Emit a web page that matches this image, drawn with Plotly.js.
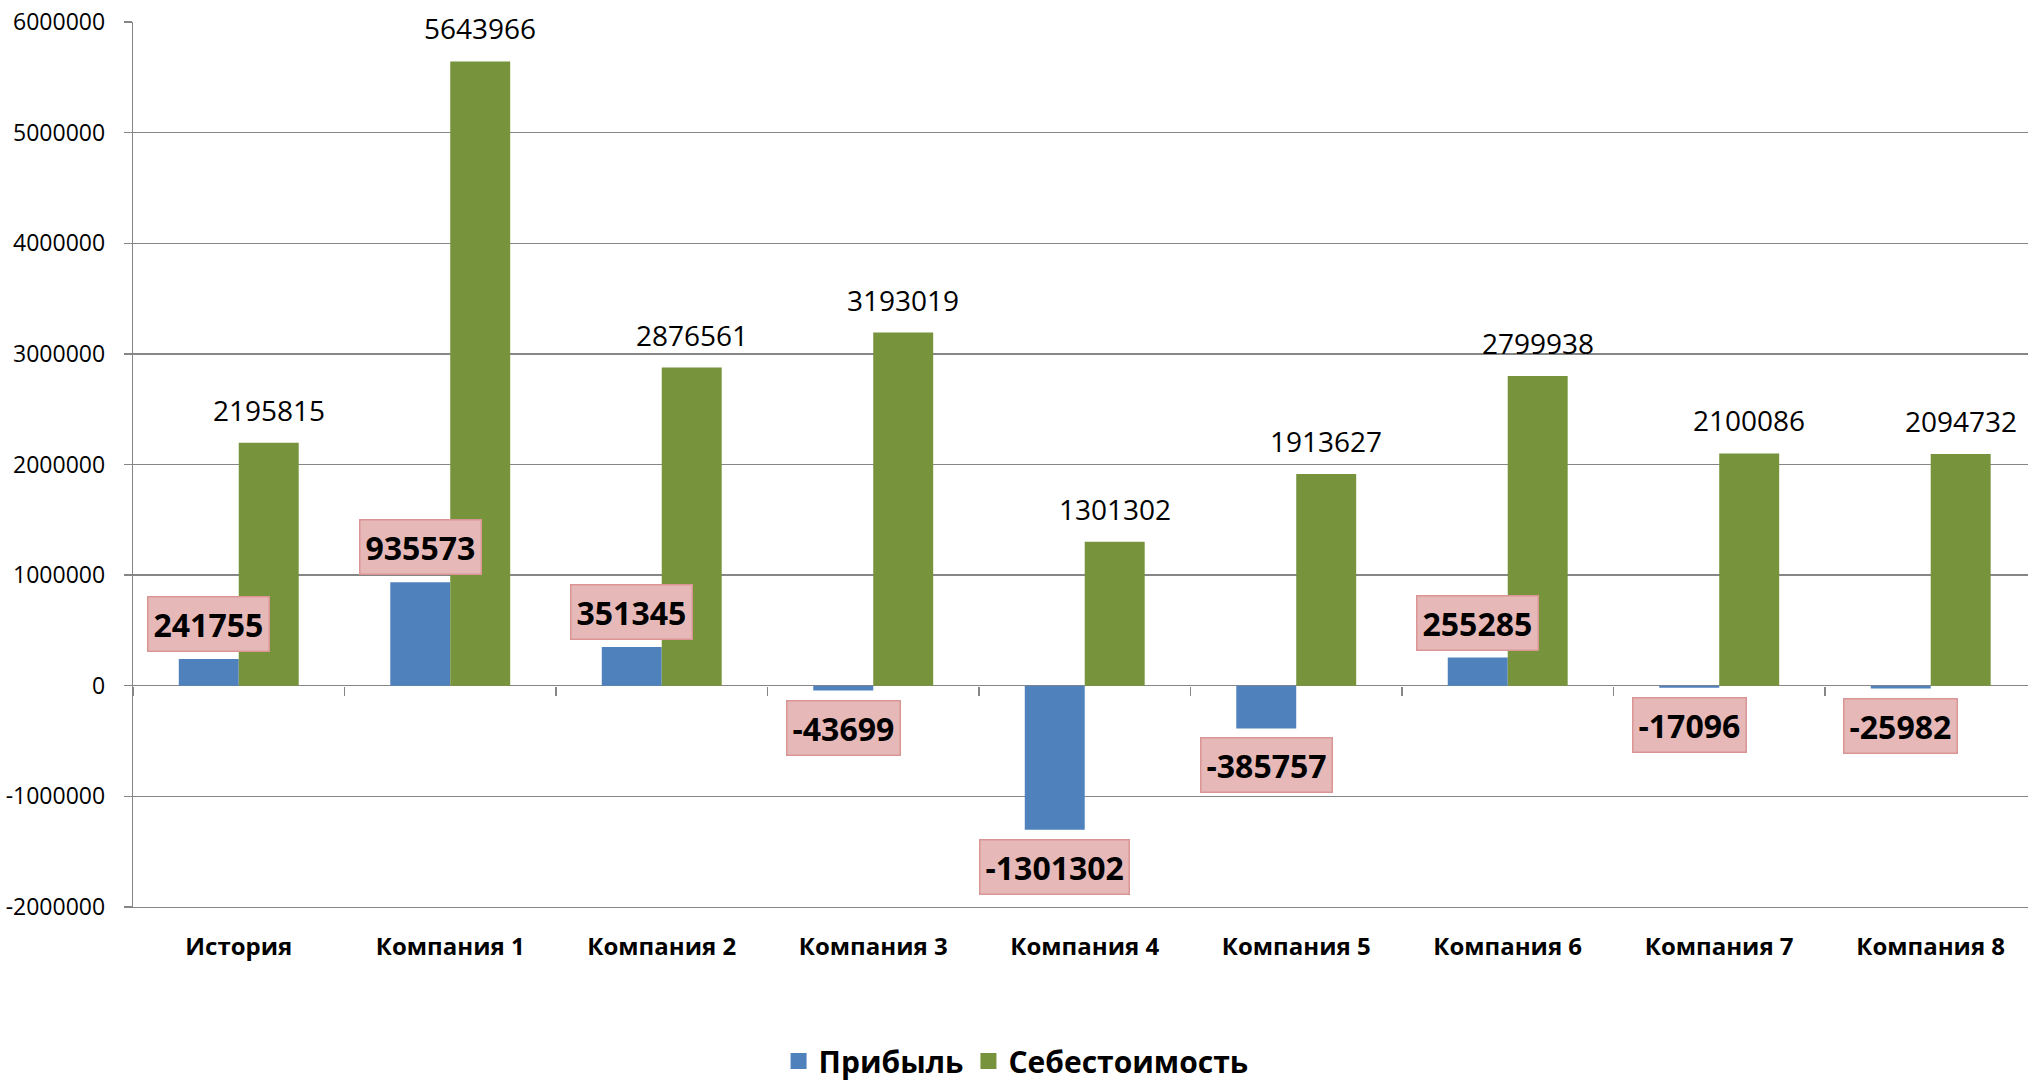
<!DOCTYPE html>
<html>
<head>
<meta charset="utf-8">
<script src="https://cdn.plot.ly/plotly-3.0.1.min.js"></script>
<style>html,body{margin:0;padding:0;background:#fff;}#chart{width:2028px;height:1081px;}</style>
</head>
<body>
<div id="chart"></div>
<script>
// ---- data ----
const categories = ["История", "Компания 1", "Компания 2", "Компания 3", "Компания 4", "Компания 5", "Компания 6", "Компания 7", "Компания 8"];
const profit = [241755, 935573, 351345, -43699, -1301302, -385757, 255285, -17096, -25982];
const cost = [2195815, 5643966, 2876561, 3193019, 1301302, 1913627, 2799938, 2100086, 2094732];
const seriesNames = ["Прибыль", "Себестоимость"];
const yTicks = [-2000000, -1000000, 0, 1000000, 2000000, 3000000, 4000000, 5000000, 6000000];

// ---- style ----
const BLUE = "#4F81BD", GREEN = "#77933C", GRID = "#868686";
const PINK = "#E6B9B8", PINK_BORDER = "#D99694";
const FONT = "Open Sans, Noto Sans, sans-serif";
const BARGAP = 0.433;
const yRange = [-2000000, 6000000];
const xRange = [-0.5, 8.46];
const barOffset = (1 - BARGAP) / 4;

const traces = [
  {type: "bar", name: seriesNames[0], x: categories, y: profit, marker: {color: BLUE}, showlegend: false, hoverinfo: "x+y"},
  {type: "bar", name: seriesNames[1], x: categories, y: cost, marker: {color: GREEN}, showlegend: false, hoverinfo: "x+y"},
  // legend entries (larger square swatches)
  {type: "scatter", mode: "markers", name: seriesNames[0], x: [null], y: [null], marker: {symbol: "square", size: 16, color: BLUE}, hoverinfo: "skip"},
  {type: "scatter", mode: "markers", name: seriesNames[1], x: [null], y: [null], marker: {symbol: "square", size: 16, color: GREEN}, hoverinfo: "skip"},
  // carrier for the boundary ticks on the zero line
  {type: "scatter", mode: "markers", x: categories, y: categories.map(() => null), xaxis: "x2", yaxis: "y", showlegend: false, hoverinfo: "skip"}
];

const annotations = [];
categories.forEach((c, i) => {
  const p = profit[i];
  annotations.push({
    x: i - barOffset, y: p, xref: "x", yref: "y",
    text: String(p), showarrow: false,
    yanchor: p >= 0 ? "bottom" : "top",
    yshift: p >= 0 ? 7 : -9,
    font: {family: FONT, size: 32, color: "#000", weight: "bold"},
    bgcolor: PINK, bordercolor: PINK_BORDER, borderwidth: 1.5, borderpad: 5
  });
  annotations.push({
    x: i + barOffset, y: cost[i], xref: "x", yref: "y",
    text: String(cost[i]), showarrow: false,
    yanchor: "bottom", yshift: 12,
    font: {family: FONT, size: 28, color: "#000"}
  });
});

const layout = {
  width: 2028, height: 1081,
  margin: {l: 133, r: 0, t: 22, b: 174, pad: 0, autoexpand: false},
  paper_bgcolor: "#fff", plot_bgcolor: "#fff",
  barmode: "group", bargap: BARGAP, bargroupgap: 0,
  font: {family: FONT, color: "#000"},
  showlegend: true,
  legend: {orientation: "h", x: 0.466, y: -0.174, xanchor: "center", yanchor: "middle",
           font: {family: FONT, size: 30, color: "#000", weight: "bold"}, itemwidth: 30, tracegroupgap: 0},
  xaxis: {
    type: "category", range: xRange, automargin: false,
    showgrid: false, zeroline: false, showline: true, linecolor: GRID, linewidth: 1.3,
    ticks: "", tickfont: {family: FONT, size: 24, color: "#000", weight: "bold"},
    ticklabelstandoff: 18
  },
  xaxis2: {
    type: "category", overlaying: "x", anchor: "free",
    position: (0 - yRange[0]) / (yRange[1] - yRange[0]),
    range: xRange, side: "bottom",
    showgrid: false, zeroline: false, showline: false,
    ticks: "outside", tickson: "boundaries", ticklen: 9, tickwidth: 1.3, tickcolor: GRID,
    showticklabels: false
  },
  yaxis: {
    range: yRange, tickvals: yTicks, ticktext: yTicks.map(String), automargin: false,
    showgrid: true, gridcolor: GRID, gridwidth: 1.3,
    zeroline: true, zerolinecolor: GRID, zerolinewidth: 1.3,
    showline: true, linecolor: GRID, linewidth: 1.3,
    ticks: "outside", ticklen: 8, tickwidth: 1.3, tickcolor: GRID,
    tickfont: {family: FONT, size: 23, color: "#000"},
    ticklabelstandoff: 14
  },
  annotations: annotations
};

Plotly.newPlot("chart", traces, layout, {displayModeBar: false, staticPlot: true});
</script>
</body>
</html>
